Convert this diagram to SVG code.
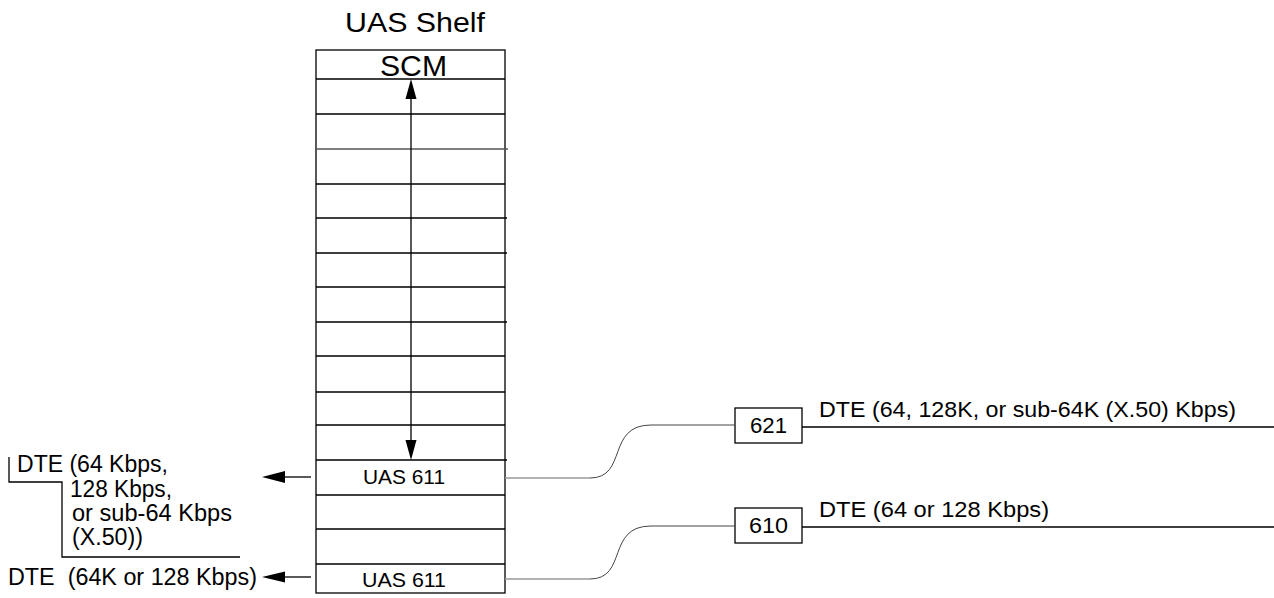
<svg xmlns="http://www.w3.org/2000/svg" width="1274" height="598" viewBox="0 0 1274 598">
<style>
.t{font-family:"Liberation Sans",Arial,sans-serif;fill:#000}
.ln{stroke:#000;stroke-width:1.3;fill:none}
.gr{stroke:#999;stroke-width:1.5;fill:none}
.cv{stroke:#444;stroke-width:1;fill:none}
.hd{fill:#000;stroke:none}
</style>
<text class="t" x="345" y="32" font-size="28" textLength="140" lengthAdjust="spacingAndGlyphs">UAS Shelf</text>
<g id="shelf">
<rect x="316" y="50" width="189" height="543" class="ln" fill="#fff"/>
<path class="ln" d="M316,79H505M316,114H505M316,184H505M316,218H507M316,253H507M316,287H505M316,322H507M316,356H505M316,392H505M316,425H505M316,460H507M316,495H505M316,529H505M316,564H505"/>
<path d="M316,149H508" stroke="#555" stroke-width="1.3"/>
<text class="t" x="380" y="76" font-size="30" textLength="67" lengthAdjust="spacingAndGlyphs">SCM</text>
<text class="t" x="363" y="484" font-size="20" textLength="82" lengthAdjust="spacingAndGlyphs">UAS 611</text>
<text class="t" x="362" y="587" font-size="20" textLength="84" lengthAdjust="spacingAndGlyphs">UAS 611</text>
</g>
<g id="n621">
<rect x="735" y="408" width="67" height="35" class="ln" fill="#fff"/>
<text class="t" x="750" y="433" font-size="22" textLength="37" lengthAdjust="spacingAndGlyphs">621</text>
</g>
<g id="n610">
<rect x="735" y="508" width="67" height="35" class="ln" fill="#fff"/>
<text class="t" x="749" y="533" font-size="22" textLength="39" lengthAdjust="spacingAndGlyphs">610</text>
</g>
<g id="labels">
<text class="t" x="819" y="417" font-size="22" textLength="417" lengthAdjust="spacingAndGlyphs">DTE (64, 128K, or sub-64K (X.50) Kbps)</text>
<text class="t" x="819" y="517" font-size="22" textLength="230" lengthAdjust="spacingAndGlyphs">DTE (64 or 128 Kbps)</text>
<text class="t" x="17" y="472" font-size="23" textLength="151" lengthAdjust="spacingAndGlyphs">DTE (64 Kbps,</text>
<text class="t" x="70" y="497" font-size="23" textLength="102" lengthAdjust="spacingAndGlyphs">128 Kbps,</text>
<text class="t" x="72" y="521" font-size="23" textLength="160" lengthAdjust="spacingAndGlyphs">or sub-64 Kbps</text>
<text class="t" x="72" y="545" font-size="23" textLength="71" lengthAdjust="spacingAndGlyphs">(X.50))</text>
<text class="t" x="8" y="585" font-size="23" textLength="249" lengthAdjust="spacingAndGlyphs" xml:space="preserve">DTE  (64K or 128 Kbps)</text>
<path class="ln" d="M9,457V482H62V557H240"/>
</g>
<g id="connectors">
<line x1="411" y1="95" x2="411" y2="444" class="ln"/>
<path class="hd" d="M411,79L416.5,99L405.5,99Z"/>
<path class="hd" d="M411,460L416.5,440L405.5,440Z"/>
<line x1="311" y1="477" x2="282" y2="477" class="ln"/>
<path class="hd" d="M262,477L285,471L285,483Z"/>
<line x1="311" y1="577" x2="282" y2="577" class="ln"/>
<path class="hd" d="M262,577L285,571.5L285,582.5Z"/>
<path class="gr" d="M505,478H590"/>
<path class="cv" d="M590,478C628,478 606,425 651,425H735"/>
<path class="gr" d="M505,579H590"/>
<path class="cv" d="M590,579C628,579 606,526 651,526H735"/>
<path class="ln" d="M802,427H1274M802,527H1274"/>
</g>
</svg>
